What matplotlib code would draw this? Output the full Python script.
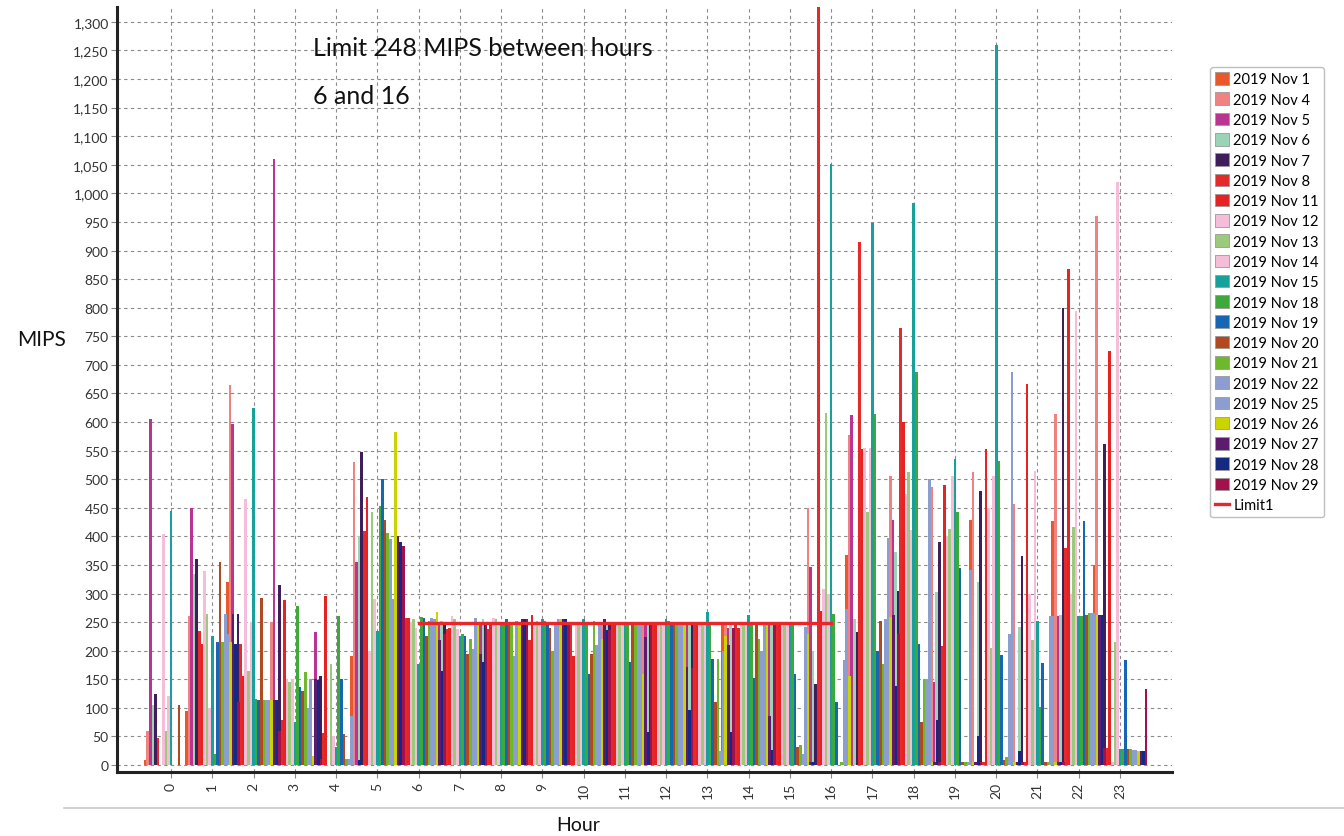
import numpy as np
import matplotlib
matplotlib.use("Agg")
import matplotlib.pyplot as plt
from matplotlib.lines import Line2D
from matplotlib.ticker import FuncFormatter, MultipleLocator

plt.rcParams['font.family'] = ['Lato', 'DejaVu Sans']

hours = list(range(24))
series_labels = ["2019 Nov 1", "2019 Nov 4", "2019 Nov 5", "2019 Nov 6", "2019 Nov 7",
                 "2019 Nov 8", "2019 Nov 11", "2019 Nov 12", "2019 Nov 13", "2019 Nov 14",
                 "2019 Nov 15", "2019 Nov 18", "2019 Nov 19", "2019 Nov 20", "2019 Nov 21",
                 "2019 Nov 22", "2019 Nov 25", "2019 Nov 26", "2019 Nov 27", "2019 Nov 28",
                 "2019 Nov 29"]
series_colors = ["#E8582A", "#F08282", "#BA3592", "#9AD3B6", "#3E1F5C",
                 "#E62A2A", "#E62222", "#F6BDD9", "#9CCA7C", "#F6BDD9",
                 "#16A19B", "#3FA83A", "#1666B4", "#B34A1F", "#6DB82B",
                 "#8C9ECF", "#8C9ECF", "#C9D400", "#5C1B6E", "#142A82",
                 "#A1114C"]

#            h0   h1   h2   h3    h4   h5   h6   h7   h8   h9   h10  h11  h12  h13  h14  h15  h16   h17  h18  h19  h20   h21  h22  h23
nov01 = [    8,  95, 320,   0,    0, 191, 255, 250, 252, 250, 250, 250, 250, 250, 248, 248,    0, 368, 250,   5, 428,    5, 426, 350]
nov04 = [   60, 260, 665, 250,    0, 530, 255, 245, 250, 248, 250, 248, 250, 250, 245, 248,  450, 578, 506, 487, 512,  457, 614, 960]
nov05 = [  605, 450, 597, 1060, 232, 355, 250, 250, 248, 250, 245, 245, 245, 245, 240, 245,  346, 612, 428, 145,   5,    5, 261,   5]
nov06 = [  105, 335, 150, 110,    0, 400, 255, 252, 255, 252, 252, 250, 250, 250, 250, 250,  200, 255, 372, 302, 320,  241, 263,   5]
nov07 = [  125, 360, 265, 315,  156, 548, 250, 248, 250, 250, 248, 250, 250, 245, 210, 250,  142, 233, 304, 391, 480,  365, 800, 562]
nov08 = [   48, 235, 212,  78,   56, 410, 257, 238, 238, 218, 246, 250, 246, 248, 248, 245, 1330, 915, 764, 209,   5,    5, 380,  30]
nov11 = [    0, 212, 156, 289,  296, 468, 257, 240, 250, 262, 190, 248, 250, 250, 240, 250,  270, 553, 600, 489, 553,  666, 868, 725]
nov12 = [  405, 340, 465, 150,    0, 200, 250, 261, 258, 250, 250, 250, 250, 250, 250, 250,  308, 554, 474, 400, 450,  300, 300,   5]
nov13 = [   60, 265, 165, 145,  177, 442, 256, 255, 255, 252, 250, 250, 250, 250, 250, 250,  616, 442, 512, 413, 204,  218, 417, 215]
nov14 = [  120, 100, 250, 150,   50, 290, 240, 238, 250, 250, 250, 250, 250, 250, 250, 250,  300, 554, 412, 506, 505,  515, 795, 1020]
nov15 = [  445, 225, 625,  75,   31, 235, 177, 226, 250, 255, 255, 250, 255, 267, 263, 248, 1051, 948, 984, 535, 1259, 252, 260,  28]
nov18 = [    0,  20, 115, 279,  261, 453, 259, 229, 250, 252, 250, 250, 252, 250, 250, 245,  264, 614, 688, 442, 532,  101, 260,  28]
nov19 = [    0, 215, 113, 136,  150, 500, 257, 226, 255, 250, 160, 180, 248, 185, 152, 160,  110, 200, 212, 344, 192,  178, 426, 184]
nov20 = [  105, 355, 293, 130,   54, 428, 226, 194, 245, 240, 194, 245, 250, 110, 250,  32,    0, 252,  75,   5,   9,    5, 263,  28]
nov21 = [    0, 215, 113, 162,   10, 406, 252, 220, 250, 200, 252, 250, 248, 185, 220,  35,    5, 177, 150,   5,  14,    5, 266,  28]
nov22 = [    0, 265, 113, 100,   10, 395, 257, 203, 190, 250, 210, 245, 250,  25, 200,  20,  183, 255, 150,   5, 230,  261, 266,  27]
nov25 = [    0, 230, 113, 150,   86, 290, 255, 258, 252, 255, 250, 245, 250, 200, 245, 241,  273, 397, 500, 342, 688,  261, 266,  27]
nov26 = [    0, 215, 113,  15,    0, 582, 268, 246, 250, 255, 220, 160, 245, 226, 245, 230,  156, 259,   5,   5,   5,    5, 263,  25]
nov27 = [    0, 265, 113, 150,    0, 400, 218, 194, 255, 255, 255, 224, 172, 210,  86,   5,    0, 263,   5,   5,   5,    5, 263,  25]
nov28 = [    0, 212, 113, 148,    8, 390, 165, 180, 255, 255, 236,  58,  96,  58,  26,   5,    0, 139,  78,  51,  25,    5, 263,  25]
nov29 = [    0, 110,  60,  10,    0, 384, 229, 246, 255, 250, 236, 250, 170, 240, 245,   0,    0, 229,   5,   5,   5,    5,  30, 133]

all_series = [nov01, nov04, nov05, nov06, nov07, nov08, nov11, nov12, nov13, nov14,
              nov15, nov18, nov19, nov20, nov21, nov22, nov25, nov26, nov27, nov28, nov29]

limit_value = 248
limit_hours = [6, 16]
limit_color = "#E8262B"

fig = plt.figure(figsize=(13.44, 8.37), dpi=100)
ax = fig.add_axes([117/1344, 1 - 773/837, (1172 - 117)/1344, (773 - 8)/837])

bar_w = 0.063
x = np.array(hours, dtype=float)
bar_handles = []
for i, (vals, col, lab) in enumerate(zip(all_series, series_colors, series_labels)):
    b = ax.bar(x + (i - 10) * bar_w, vals, width=bar_w, color=col, label=lab,
               linewidth=0, zorder=2)
    bar_handles.append(b)

limit_line, = ax.plot(limit_hours, [limit_value, limit_value], color=limit_color, lw=2.4,
                      zorder=4, label="Limit1")

ax.set_xlim(-1.31, 24.26)
ax.set_ylim(-12.2, 1326)
ax.yaxis.set_major_locator(MultipleLocator(50))
ax.yaxis.set_major_formatter(FuncFormatter(lambda v, p: f"{int(v):,}"))
ax.set_xticks(hours)
ax.set_xticklabels([str(h) for h in hours], rotation=90)
ax.tick_params(axis='y', labelsize=10, colors='#888888', labelcolor='#333333',
               length=4, width=0.8, pad=2)
ax.tick_params(axis='x', labelsize=10, colors='#888888', labelcolor='#333333',
               length=4, width=0.8, pad=3)
ax.grid(True, which='major', color='#8a8a8a', linestyle=(0, (3, 3)), linewidth=0.8, zorder=0)
ax.set_axisbelow(True)
for s in ['top', 'right']:
    ax.spines[s].set_visible(False)
for s in ['left', 'bottom']:
    ax.spines[s].set_linewidth(2.2)
    ax.spines[s].set_color('#222222')

fig.text(42/1344, 1 - 340/837, "MIPS", fontsize=15, ha='center', va='center', color='#111111')
fig.text(578/1344, 1 - 826/837, "Hour", fontsize=14, ha='center', va='center', color='#111111')
fig.text(313/1344, 1 - 48/837, "Limit 248 MIPS between hours", fontsize=18,
         ha='left', va='center', color='#111111')
fig.text(313/1344, 1 - 97/837, "6 and 16", fontsize=18, ha='left', va='center', color='#111111')

fig.add_artist(Line2D([64/1344, 1.0], [1 - 809/837, 1 - 809/837], color='#c8c8c8', lw=1.2))

handles = bar_handles + [limit_line]
labels = series_labels + ["Limit1"]
leg = fig.legend(handles, labels, loc='upper left', bbox_to_anchor=(1210/1344, 1 - 68/837),
                 fontsize=10.5, handlelength=0.95, handleheight=0.95, handletextpad=0.3,
                 labelspacing=0.41, borderpad=0.35, frameon=True, fancybox=True,
                 edgecolor='#b0b0b0', borderaxespad=0)
for p in leg.get_patches():
    p.set_edgecolor('#999999')
    p.set_linewidth(0.6)
leg.get_frame().set_linewidth(1.0)

fig.savefig("out.png", dpi=100)
